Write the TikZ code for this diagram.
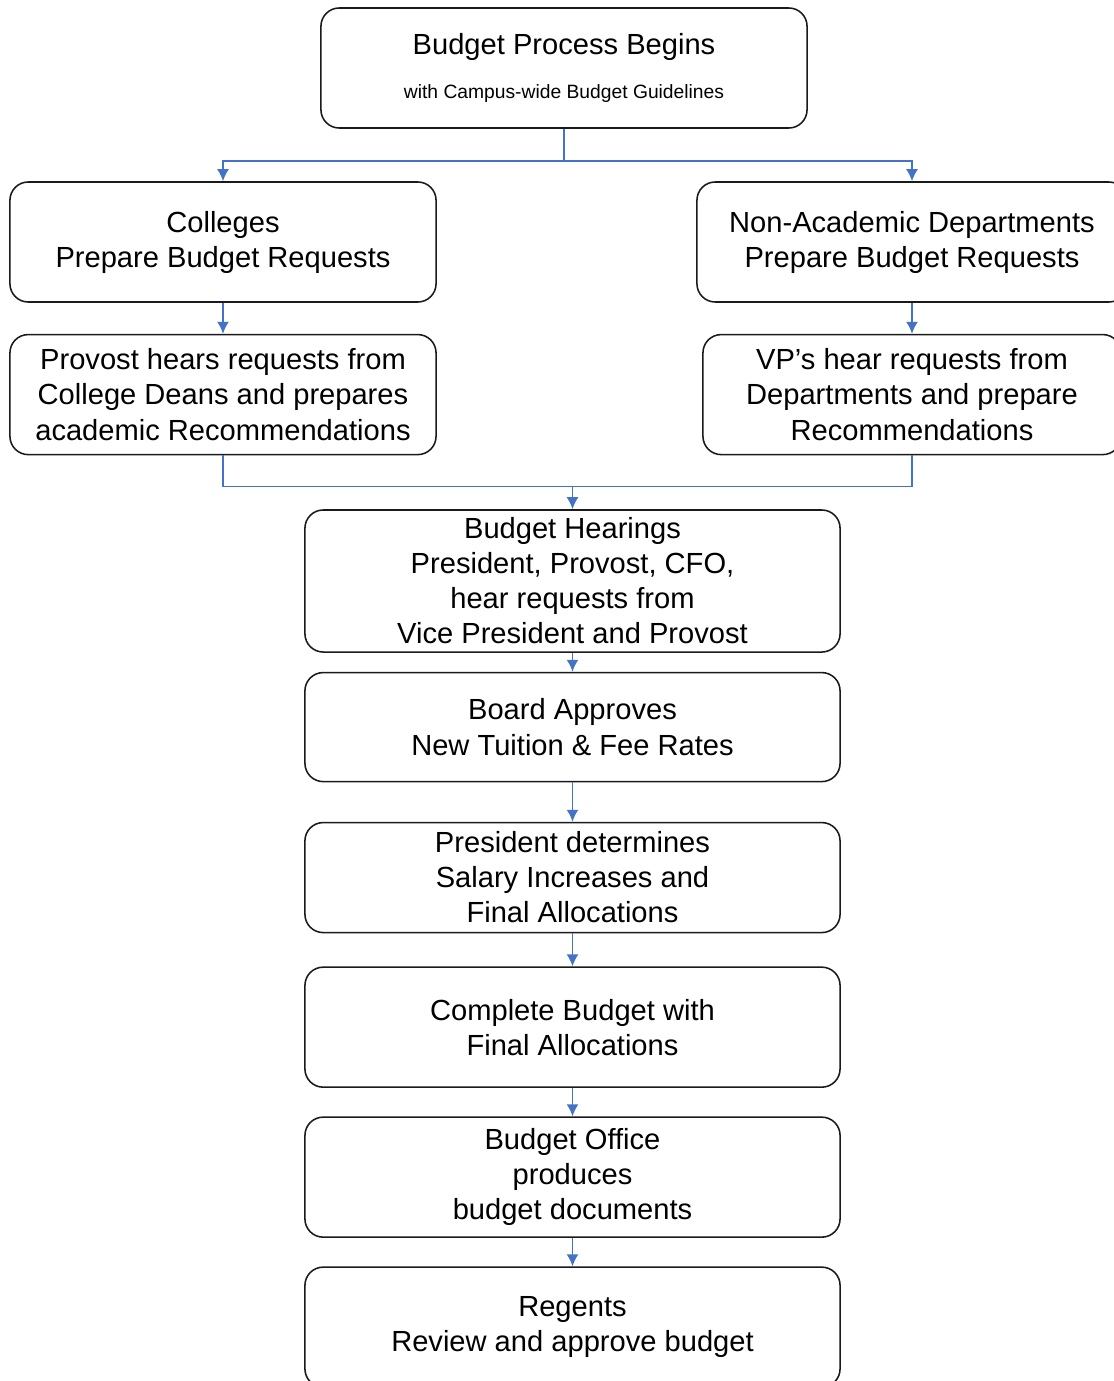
\documentclass[tikz,border=0pt]{standalone}
\usepackage{fontspec}
\setmainfont{Liberation Sans}
\usepackage{tikz}
\usetikzlibrary{arrows.meta,positioning}
\definecolor{ink}{HTML}{1a1a1a}
\definecolor{link}{HTML}{4472C4}

\begin{document}
\begin{tikzpicture}[
  x=0.025cm, y=-0.025cm,
  node distance=8mm,
  box/.style={draw=ink, line width=1.1pt, rounded corners=13pt, fill=white, minimum height=3cm, minimum width=13.375cm, align=center, font=\fontsize{20.7}{24.9}\selectfont, inner sep=1pt},
  sidebox/.style={box, minimum width=10.65cm},
  arr/.style={-{Latex[length=3mm, width=3mm]}, line width=1.2pt, color=link},
  lnk/.style={line width=1.2pt, color=link}
]
\useasboundingbox (0,0) rectangle (1113,1381);

% Start
\node[box, minimum width=12.15cm] (begin) at (564,68) {Budget Process Begins\\[7pt]{\fontsize{13.7}{16}\selectfont with Campus-wide Budget Guidelines}};

% Academic side
\node[sidebox] (colleges) at (223,242) {Colleges\\Prepare Budget Requests};
\node[sidebox, below=0.775cm of colleges] (provost) {Provost hears requests from\\College Deans and prepares\\academic Recommendations};

% Non-academic side
\node[sidebox, minimum width=10.75cm] (nonacad) at (912,242) {Non-Academic Departments\\Prepare Budget Requests};
\node[sidebox, minimum width=10.45cm, below=0.775cm of nonacad] (vps) {VP's hear requests from\\Departments and prepare\\Recommendations};

% Main sequence
\node[box, minimum height=3.55cm] (hearings) at (572.5,581) {Budget Hearings\\President, Provost, CFO,\\hear requests from\\Vice President and Provost};
\node[box, minimum height=2.725cm, below=0.475cm of hearings] (board) {Board Approves\\New Tuition \& Fee Rates};
\node[box, minimum height=2.75cm, below=0.985cm of board] (salary) {President determines\\Salary Increases and\\Final Allocations};
\node[box, below=0.825cm of salary] (complete) {Complete Budget with\\Final Allocations};
\node[box, below=0.71cm of complete] (office) {Budget Office\\produces\\budget documents};
\node[box, below=0.71cm of office] (regents) {Regents\\Review and approve budget};

\draw[arr] (begin.south) -- ++(0,32) -| (colleges.north);
\draw[arr] (begin.south) -- ++(0,32) -| (nonacad.north);
\draw[arr] (colleges) -- (provost);
\draw[arr] (nonacad) -- (vps);
\draw[lnk] (provost.south) -- ++(0,31) coordinate (joinl) -| (vps.south);
\draw[arr] (hearings.north |- joinl) -- (hearings.north);
\draw[arr] (hearings) -- (board);
\draw[arr] (board) -- (salary);
\draw[arr] (salary) -- (complete);
\draw[arr] (complete) -- (office);
\draw[arr] (office) -- (regents);
\end{tikzpicture}
\end{document}
